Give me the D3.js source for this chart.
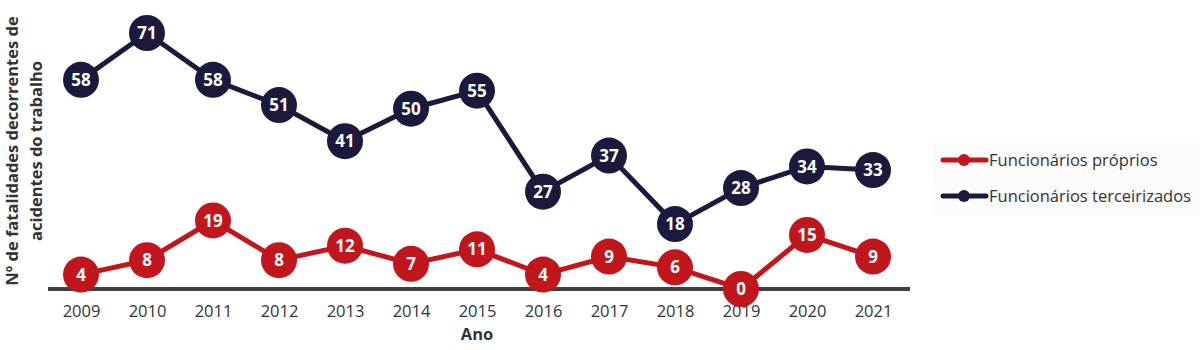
<!DOCTYPE html>
<html>
<head>
<meta charset="utf-8">
<script src="https://cdn.jsdelivr.net/npm/d3@7"></script>
<style>
  body { margin: 0; background: #fff; }
  svg { font-family: "Open Sans", sans-serif; }
</style>
</head>
<body>
<svg id="chart" width="1200" height="350"></svg>
<script>
const years = ["2009", "2010", "2011", "2012", "2013", "2014", "2015", "2016", "2017", "2018", "2019", "2020", "2021"];
const proprios = [4, 8, 19, 8, 12, 7, 11, 4, 9, 6, 0, 15, 9];
const terceirizados = [58, 71, 58, 51, 41, 50, 55, 27, 37, 18, 28, 34, 33];
const seriesNames = ["Funcionários próprios", "Funcionários terceirizados"];
const seriesColors = ["#c0161c", "#1b1a3c"];

const svg = d3.select("#chart");

// Plot area
const x = d3.scalePoint().domain(years).range([81, 873]);
const y = d3.scaleLinear().domain([0, 71]).range([289, 33]);

// Axis
const xAxis = svg.append("g")
  .attr("transform", "translate(0,289)")
  .call(d3.axisBottom(x).tickSize(0).tickPadding(16));
xAxis.select(".domain").remove();
xAxis.selectAll("text")
  .attr("font-size", 16.5)
  .attr("fill", "#333")
  .attr("font-family", "Open Sans, sans-serif");

svg.append("line")
  .attr("x1", 48).attr("x2", 910)
  .attr("y1", 289).attr("y2", 289)
  .attr("stroke", "#404040")
  .attr("stroke-width", 4);

svg.append("text")
  .attr("x", x("2015")).attr("y", 340)
  .attr("text-anchor", "middle")
  .attr("font-size", 16.5)
  .attr("font-weight", "bold")
  .attr("fill", "#333")
  .text("Ano");

// Y title
const yTitle = svg.append("text")
  .attr("transform", "translate(18,151) rotate(-90)")
  .attr("text-anchor", "middle")
  .attr("font-size", 16.5)
  .attr("font-weight", "bold")
  .attr("fill", "#333");
yTitle.append("tspan").attr("x", 0).attr("dy", 0).text("Nº de fatalidades decorrentes de");
yTitle.append("tspan").attr("x", 0).attr("dy", 24).text("acidentes do trabalho");

const line = d3.line()
  .x((d, i) => x(years[i]))
  .y(d => y(d));

function drawSeries(values, color) {
  const g = svg.append("g");
  g.append("path")
    .datum(values)
    .attr("fill", "none")
    .attr("stroke", color)
    .attr("stroke-width", 5)
    .attr("d", line);
  const pts = g.selectAll("g.pt")
    .data(values)
    .enter()
    .append("g")
    .attr("class", "pt")
    .attr("transform", (d, i) => `translate(${x(years[i])},${y(d)})`);
  pts.append("circle")
    .attr("r", 18)
    .attr("fill", color);
  pts.append("text")
    .attr("text-anchor", "middle")
    .attr("dy", "0.36em")
    .attr("font-size", 17)
    .attr("font-weight", "bold")
    .attr("fill", "#fff")
    .text(d => d);
}

drawSeries(terceirizados, seriesColors[1]);
drawSeries(proprios, seriesColors[0]);

// Legend
const legend = svg.append("g");
legend.append("rect")
  .attr("x", 933).attr("y", 142)
  .attr("width", 267).attr("height", 74)
  .attr("fill", "#fbfbfb");

const items = legend.selectAll("g.item")
  .data(seriesNames)
  .enter()
  .append("g")
  .attr("class", "item")
  .attr("transform", (d, i) => `translate(0,${160 + i * 36})`);
items.append("line")
  .attr("x1", 943).attr("x2", 986)
  .attr("stroke", (d, i) => seriesColors[i])
  .attr("stroke-width", 5)
  .attr("stroke-linecap", "round");
items.append("circle")
  .attr("cx", 964).attr("r", 6)
  .attr("fill", (d, i) => seriesColors[i]);
items.append("text")
  .attr("x", 989)
  .attr("dy", "0.35em")
  .attr("font-size", 16.5)
  .attr("fill", "#333")
  .text(d => d);
</script>
</body>
</html>
